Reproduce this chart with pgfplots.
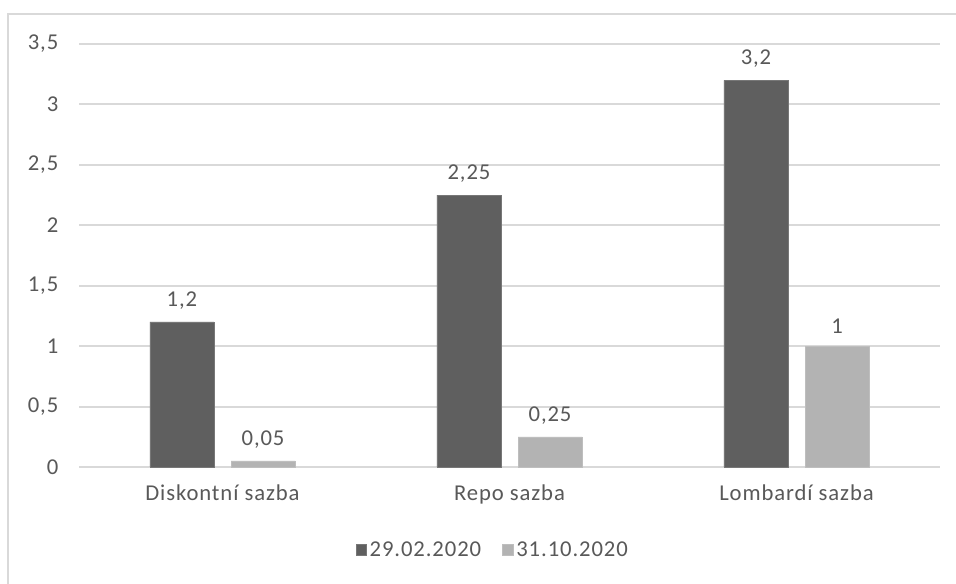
\documentclass[border=0pt]{standalone}
\usepackage{pgfplots}
\pgfplotsset{compat=1.18}
\usepackage{fontspec}
\setmainfont[LetterSpace=4]{Carlito}
\definecolor{darkbar}{HTML}{5F5F5F}
\definecolor{lightbar}{HTML}{B3B3B3}
\definecolor{gridc}{HTML}{D9D9D9}
\definecolor{txt}{HTML}{595959}
\definecolor{frame}{HTML}{D9D9D9}
\begin{document}
\begin{tikzpicture}[x=0.75pt,y=0.75pt]
\useasboundingbox (0,0) rectangle (956,584);
\fill[white] (0,0) rectangle (956,584);
\draw[frame, line width=1.5pt] (8,0) -- (8,570) -- (956,570);
\begin{axis}[
  at={(79*0.75pt,117*0.75pt)}, anchor=south west,
  scale only axis,
  width=861*0.75pt, height=423*0.75pt,
  xmin=-0.5, xmax=2.5, ymin=0, ymax=3.5,
  axis line style={draw=none},
  ymajorgrids, grid style={gridc, line width=1.5pt},
  ytick={0,0.5,1,1.5,2,2.5,3,3.5},
  yticklabels={0,{0,5},1,{1,5},2,{2,5},3,{3,5}},
  xtick={0,1,2},
  xticklabels={Diskontní sazba, Repo sazba, Lombardí sazba},
  xtick pos=bottom, ytick pos=left,
  major tick length=0pt,
  tick label style={font=\fontsize{17}{20}\selectfont, text=txt},
  yticklabel style={xshift=-12pt},
  xticklabel style={yshift=-10pt},
  ybar, bar width=48pt,
  point meta=explicit symbolic,
  nodes near coords,
  nodes near coords style={font=\fontsize{17}{20}\selectfont, text=txt, yshift=6pt},
  legend style={at={(0.481,-0.196)}, anchor=center, draw=none, legend columns=2,
    font=\fontsize{17}{20}\selectfont, text=txt,
    /tikz/every even column/.append style={column sep=14pt}},
  legend image code/.code={\fill[#1] (0pt,-4pt) rectangle (8pt,4pt);},
  clip=false,
]
\addplot[fill=darkbar, draw=darkbar!85!white, bar shift=-30.4pt] coordinates {(0,1.2) [{1,2}] (1,2.25) [{2,25}] (2,3.2) [{3,2}]};
\addplot[fill=lightbar, draw=lightbar!85!white, bar shift=30.4pt] coordinates {(0,0.05) [{0,05}] (1,0.25) [{0,25}] (2,1) [1]};
\legend{29.02.2020, 31.10.2020}
\end{axis}
\end{tikzpicture}
\end{document}
